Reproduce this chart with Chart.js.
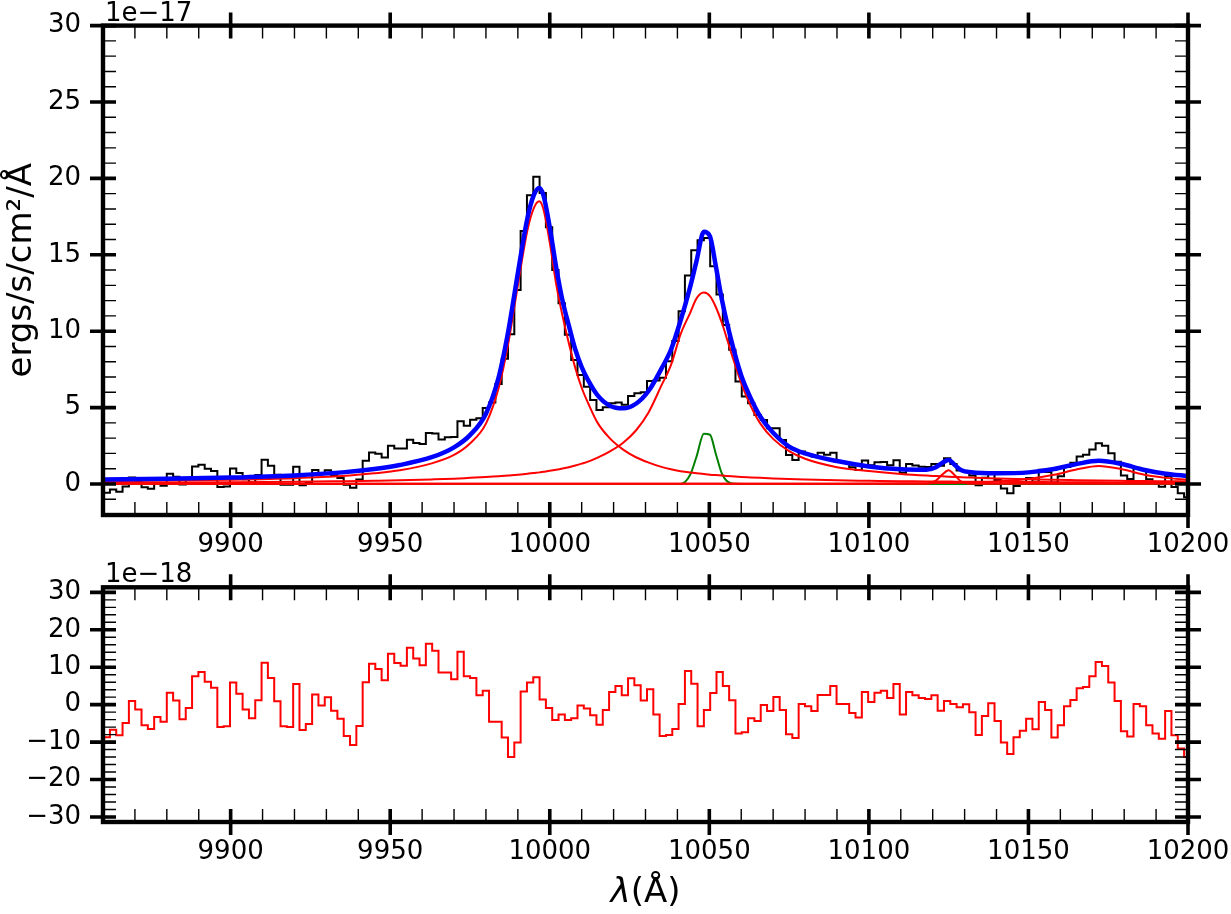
<!DOCTYPE html>
<html>
<head>
<meta charset="utf-8">
<script src="https://cdn.jsdelivr.net/npm/chart.js@4.4.1/dist/chart.umd.min.js"></script>
<style>
  html, body { margin: 0; padding: 0; background: #fff; }
  #wrap { position: relative; width: 1231px; height: 914px; }
  canvas { position: absolute; left: 0; }
  #fluxChart { top: 0; }
  #residChart { top: 560px; }
</style>
</head>
<body>
<div id="wrap">
  <canvas id="fluxChart" width="1231" height="560"></canvas>
  <canvas id="residChart" width="1231" height="354"></canvas>
</div>
<script>
// spectrum bins (steps-mid), centre of the first (clipped) bin and bin width in Å
const binStart = 9859.2
const binStep = 1.98

// observed flux, 1e-17 ergs/s/cm2/Å, one value per bin
const flux = [
  -0.55, -0.57, -0.36, -0.51, -0.17, 0.42, 0.20, -0.22, -0.31, 0.01,
  -0.11, 0.67, 0.47, -0.03, 0.28, 1.14, 1.26, 1.00, 0.85, -0.19,
  -0.16, 1.01, 0.72, 0.31, 0.09, 0.58, 1.59, 1.20, 0.60, -0.05,
  -0.05, 1.12, -0.09, 0.10, 0.91, 0.65, 0.90, 0.57, 0.39, -0.05,
  -0.25, 0.30, 1.52, 2.06, 1.98, 1.73, 2.50, 2.32, 2.33, 2.89,
  2.69, 2.61, 3.34, 3.30, 2.91, 3.06, 3.08, 4.11, 3.81, 4.21,
  4.30, 4.97, 5.34, 6.54, 8.20, 9.80, 12.70, 16.55, 18.90, 20.10,
  19.05, 16.80, 14.00, 11.83, 9.76, 8.12, 7.14, 6.37, 5.50, 4.85,
  5.02, 5.28, 5.33, 5.18, 5.76, 5.94, 6.00, 6.74, 6.77, 6.96,
  8.04, 9.35, 11.30, 13.65, 15.30, 15.95, 16.10, 14.25, 12.40, 10.40,
  8.78, 6.71, 5.72, 5.28, 4.52, 4.19, 3.65, 3.65, 2.88, 1.90,
  1.57, 2.12, 1.96, 1.80, 2.04, 1.91, 2.04, 1.48, 1.41, 1.10,
  0.92, 1.54, 1.22, 1.43, 1.44, 1.22, 1.56, 0.73, 1.31, 1.21,
  1.13, 1.11, 1.31, 1.20, 1.68, 1.30, 0.88, 0.81, 0.55, -0.08,
  0.41, 0.74, 0.26, -0.30, -0.60, -0.14, 0.05, 0.39, 0.15, 0.93,
  0.78, 0.10, 0.51, 1.11, 1.39, 1.80, 1.91, 2.26, 2.66, 2.51,
  2.01, 1.45, 0.56, 0.32, 1.07, 0.91, 0.31, 0.02, -0.18, 0.50,
  -0.20, -0.60, -0.87
]

// residuals, 1e-18, same bins
const resid = [
  0, -8.7, -6.7, -8.2, -4.9, 1.0, -1.3, -5.5, -6.5, -3.3,
  -4.6, 3.2, 1.1, -3.9, -0.9, 7.6, 8.75, 6.1, 4.5, -6.0,
  -5.8, 5.9, 2.9, -1.3, -3.6, 1.2, 11.2, 7.1, 0.9, -5.8,
  -6.0, 5.5, -6.8, -5.2, 2.7, -0.2, 2.0, -1.6, -3.75, -8.4,
  -10.8, -5.7, 6.0, 10.9, 9.55, 6.5, 13.6, 11.1, 10.4, 15.2,
  12.3, 10.5, 16.25, 14.4, 8.6, 8.6, 6.8, 14.1, 7.6, 7.1,
  2.5, 3.7, -4.6, -4.6, -8.75, -14.0, -10.1, 3.5, 5.9, 7.3,
  1.4, -0.9, -4.1, -2.6, -4.1, -3.6, -0.2, -1.0, -2.8, -5.4,
  -1.4, 3.4, 5.0, 2.5, 7.05, 5.2, 1.1, 4.1, -2.6, -8.4,
  -8.1, -6.5, 0.2, 9.0, 5.6, -5.8, -1.4, 3.1, 8.7, 5.0,
  1.2, -7.7, -7.4, -3.6, -4.4, -0.1, -1.7, 2.05, -1.4, -7.9,
  -8.9, 0.2, -0.4, -1.7, 2.6, 2.6, 5.0, 0.2, 0.2, -2.2,
  -3.4, 3.4, 0.7, 3.2, 3.7, 1.8, 5.5, -2.6, 3.4, 2.5,
  1.8, 1.5, 2.5, -1.6, 1.0, 0.2, -0.7, 0.1, -2.0, -8.1,
  -3.0, 0.4, -4.4, -10.1, -13.2, -8.7, -7.0, -3.8, -6.6, 0.7,
  -1.4, -8.75, -5.5, -0.4, 1.25, 4.4, 4.7, 7.6, 11.4, 10.3,
  5.9, 1.0, -7.1, -8.5, 0.2, -0.4, -5.5, -7.7, -9.1, -1.7,
  -8.2, -11.7, -14.0
]

// fitted model, read at these wavelengths
const modelWave = [
  9860, 9880, 9900, 9920, 9935, 9945, 9953, 9963, 9970, 9975,
  9980, 9984, 9987, 9990, 9993, 9995, 9996.7, 9998, 10000, 10002,
  10004, 10006, 10008, 10010, 10012, 10015, 10019, 10023, 10027, 10031,
  10035, 10038, 10041, 10044, 10046, 10048.3, 10050.2, 10052, 10054, 10057,
  10060, 10063, 10066, 10070, 10075, 10080, 10090, 10100, 10110, 10118,
  10121, 10123, 10125, 10127, 10129, 10132, 10140, 10150, 10158, 10165,
  10172, 10179, 10186, 10193, 10200
]
// total model (blue)
const modelTotal = [
  0.30, 0.35, 0.42, 0.56, 0.76, 0.98, 1.24, 1.75, 2.4, 3.2,
  4.6, 7.0, 10.0, 13.8, 17.4, 18.9, 19.37, 18.9, 16.8, 14.2,
  12.0, 10.35, 8.8, 7.65, 6.8, 5.8, 5.1, 4.95, 5.25, 6.1,
  7.55, 8.8, 10.7, 12.9, 14.6, 16.5, 16.2, 14.3, 12.0, 9.3,
  7.1, 5.6, 4.4, 3.35, 2.45, 2.0, 1.5, 1.15, 0.96, 0.93,
  1.1, 1.38, 1.57, 1.22, 0.9, 0.77, 0.70, 0.76, 0.98, 1.30,
  1.52, 1.32, 0.93, 0.67, 0.52
]
// broad line near 9997 Å (red)
const broadA = [
  0.18, 0.22, 0.28, 0.38, 0.52, 0.70, 0.90, 1.35, 1.9, 2.65,
  3.95, 6.3, 9.2, 13.0, 16.6, 18.05, 18.5, 18.0, 15.8, 13.1,
  11.0, 9.2, 7.6, 6.3, 5.3, 4.0, 2.95, 2.25, 1.75, 1.4,
  1.12, 0.96, 0.84, 0.75, 0.70, 0.65, 0.61, 0.58, 0.55, 0.50,
  0.46, 0.43, 0.40, 0.36, 0.32, 0.29, 0.24, 0.21, 0.18, 0.17,
  0.16, 0.16, 0.16, 0.15, 0.15, 0.15, 0.14, 0.13, 0.12, 0.11,
  0.11, 0.10, 0.10, 0.09, 0.09
]
// broad line near 10049 Å (red)
const broadB = [
  0.08, 0.09, 0.11, 0.14, 0.18, 0.21, 0.24, 0.30, 0.35, 0.40,
  0.45, 0.50, 0.55, 0.60, 0.67, 0.72, 0.76, 0.80, 0.86, 0.93,
  1.01, 1.10, 1.21, 1.33, 1.46, 1.72, 2.15, 2.7, 3.5, 4.7,
  6.45, 7.8, 9.8, 11.2, 12.15, 12.53, 12.3, 11.6, 10.5, 8.5,
  6.6, 5.1, 3.95, 2.95, 2.15, 1.65, 1.1, 0.85, 0.66, 0.55,
  0.52, 0.50, 0.48, 0.46, 0.44, 0.42, 0.36, 0.31, 0.27, 0.25,
  0.23, 0.21, 0.19, 0.18, 0.17
]
// narrow line near 10049 Å (green)
const narrowB = [
  0, 0, 0, 0, 0, 0, 0, 0, 0, 0,
  0, 0, 0, 0, 0, 0, 0, 0, 0, 0,
  0, 0, 0, 0, 0, 0, 0, 0, 0, 0,
  0, 0, 0, 0.6, 1.8, 3.28, 3.22, 2.0, 0.65, 0.03,
  0, 0, 0, 0, 0, 0, 0, 0, 0, 0,
  0, 0, 0, 0, 0, 0, 0, 0, 0, 0,
  0, 0, 0, 0, 0
]
// weak line near 10125 Å (red)
const weakC = [
  0.02, 0.02, 0.02, 0.02, 0.02, 0.02, 0.02, 0.02, 0.02, 0.02,
  0.02, 0.02, 0.02, 0.02, 0.02, 0.02, 0.02, 0.02, 0.02, 0.02,
  0.02, 0.02, 0.02, 0.02, 0.02, 0.02, 0.02, 0.02, 0.02, 0.02,
  0.02, 0.02, 0.02, 0.02, 0.02, 0.02, 0.02, 0.02, 0.02, 0.02,
  0.02, 0.02, 0.02, 0.02, 0.02, 0.02, 0.02, 0.02, 0.02, 0.02,
  0.22, 0.62, 0.90, 0.55, 0.15, 0.02, 0.02, 0.02, 0.02, 0.02,
  0.02, 0.02, 0.02, 0.02, 0.02
]
// broad weak line near 10172 Å (red)
const broadD = [
  0.01, 0.01, 0.01, 0.01, 0.01, 0.01, 0.01, 0.01, 0.01, 0.01,
  0.01, 0.01, 0.01, 0.01, 0.01, 0.01, 0.01, 0.01, 0.01, 0.01,
  0.01, 0.01, 0.01, 0.01, 0.01, 0.01, 0.01, 0.01, 0.01, 0.01,
  0.01, 0.01, 0.01, 0.01, 0.01, 0.01, 0.01, 0.01, 0.01, 0.01,
  0.01, 0.01, 0.01, 0.01, 0.01, 0.01, 0.02, 0.03, 0.04, 0.05,
  0.06, 0.06, 0.07, 0.07, 0.08, 0.10, 0.17, 0.33, 0.60, 0.95,
  1.18, 0.98, 0.62, 0.40, 0.28
]

const waveTicks = [9900, 9950, 10000, 10050, 10100, 10150, 10200]
const fluxTicks = [0, 5, 10, 15, 20, 25, 30]
const residTicks = [-30, -20, -10, 0, 10, 20, 30]

const binWave = flux.map((_, i) => +(binStart + i * binStep).toFixed(2))
const pts = (xs, ys) => ys.map((y, i) => ({ x: xs[i], y }))
const fmt = (v) => (v < 0 ? '\u2212' + Math.abs(v) : String(v))

Chart.defaults.font.family = '"DejaVu Sans", sans-serif'
Chart.defaults.color = '#000'

function range (a, b, step, skip) {
  const out = []
  for (let v = a; v <= b + 1e-9; v += step) if (Math.abs(v % skip) > 1e-6) out.push(v)
  return out
}

// frame, inward minor ticks, in-out major ticks, offset text and axis titles
const frameTicks = {
  id: 'frameTicks',
  afterDraw (chart, args, opts) {
    const { ctx, chartArea: a } = chart
    const xs = chart.scales.x
    const ys = chart.scales.y
    const L = 13
    ctx.save()
    ctx.strokeStyle = '#000'
    ctx.lineWidth = 1.4
    ctx.beginPath()
    for (const v of opts.xMinor) {
      const p = xs.getPixelForValue(v)
      ctx.moveTo(p, a.bottom); ctx.lineTo(p, a.bottom - L)
      ctx.moveTo(p, a.top); ctx.lineTo(p, a.top + L)
    }
    for (const v of opts.yMinor) {
      const p = ys.getPixelForValue(v)
      ctx.moveTo(a.left, p); ctx.lineTo(a.left + L, p)
      ctx.moveTo(a.right, p); ctx.lineTo(a.right - L, p)
    }
    ctx.stroke()
    ctx.lineWidth = 3.6
    ctx.beginPath()
    for (const v of opts.xMajor) {
      const p = xs.getPixelForValue(v)
      ctx.moveTo(p, a.bottom + L); ctx.lineTo(p, a.bottom - L)
      ctx.moveTo(p, a.top - L); ctx.lineTo(p, a.top + L)
    }
    for (const v of opts.yMajor) {
      const p = ys.getPixelForValue(v)
      ctx.moveTo(a.left - L, p); ctx.lineTo(a.left + L, p)
      ctx.moveTo(a.right + L, p); ctx.lineTo(a.right - L, p)
    }
    ctx.stroke()
    ctx.lineWidth = 4.4
    ctx.strokeRect(a.left, a.top, a.right - a.left, a.bottom - a.top)

    ctx.fillStyle = '#000'
    ctx.font = '26px "DejaVu Sans"'
    ctx.textAlign = 'left'
    ctx.textBaseline = 'alphabetic'
    ctx.fillText(opts.offset, a.left + 2, a.top - 5)

    if (opts.yTitle) {
      ctx.save()
      ctx.translate(22, (a.top + a.bottom) / 2)
      ctx.rotate(-Math.PI / 2)
      ctx.font = '34px "DejaVu Sans"'
      ctx.textAlign = 'center'
      ctx.textBaseline = 'middle'
      ctx.fillText(opts.yTitle, 0, 0)
      ctx.restore()
    }
    if (opts.xTitle) {
      const cx = (a.left + a.right) / 2
      const cy = opts.xTitleY
      ctx.textBaseline = 'middle'
      ctx.font = 'italic 34px "DejaVu Sans"'
      const w1 = ctx.measureText('λ').width
      ctx.font = '34px "DejaVu Sans"'
      const w2 = ctx.measureText('(Å)').width
      const x0 = cx - (w1 + w2) / 2
      ctx.font = 'italic 34px "DejaVu Sans"'
      ctx.fillText('λ', x0, cy)
      ctx.font = '34px "DejaVu Sans"'
      ctx.fillText('(Å)', x0 + w1, cy)
    }
    ctx.restore()
  }
}

function axes (yMin, yMax, yTicks, xHeight) {
  return {
    x: {
      type: 'linear',
      min: 9860,
      max: 10200,
      grid: { display: false, drawTicks: false },
      border: { display: false },
      afterBuildTicks: (s) => { s.ticks = waveTicks.map(v => ({ value: v })) },
      afterFit: (s) => { s.height = xHeight; s.paddingLeft = 0; s.paddingRight = 0 },
      ticks: { font: { size: 26 }, padding: 15, maxRotation: 0, autoSkip: false, callback: (v) => String(v) }
    },
    y: {
      type: 'linear',
      min: yMin,
      max: yMax,
      grid: { display: false, drawTicks: false },
      border: { display: false },
      afterBuildTicks: (s) => { s.ticks = yTicks.map(v => ({ value: v })) },
      afterFit: (s) => { s.width = 103; s.paddingTop = 0; s.paddingBottom = 0 },
      ticks: { font: { size: 26 }, padding: 22, autoSkip: false, callback: (v) => fmt(v) }
    }
  }
}

const common = {
  responsive: false,
  animation: false,
  events: [],
  plugins: { legend: { display: false }, tooltip: { enabled: false } }
}

const curve = (data, color, width, order) => ({
  data, borderColor: color, borderWidth: width, pointRadius: 0,
  cubicInterpolationMode: 'monotone', fill: false, order
})

new Chart(document.getElementById('fluxChart'), {
  type: 'line',
  data: {
    datasets: [
      curve(pts(modelWave, modelTotal), '#0000ff', 4.5, 0),
      curve(pts(modelWave, broadA), '#ff0000', 2, 1),
      curve(pts(modelWave, broadB), '#ff0000', 2, 1),
      curve(pts(modelWave, weakC), '#ff0000', 2, 1),
      curve(pts(modelWave, broadD), '#ff0000', 2, 1),
      curve(pts(modelWave, narrowB), '#008000', 2, 2),
      {
        data: pts(binWave, flux), borderColor: '#000', borderWidth: 2,
        pointRadius: 0, stepped: 'middle', fill: false, order: 3
      }
    ]
  },
  options: {
    ...common,
    layout: { padding: { top: 25.6, right: 43, left: 0, bottom: 0 } },
    scales: axes(-2.03, 30, fluxTicks, 45),
    plugins: {
      ...common.plugins,
      frameTicks: {
        xMajor: waveTicks, xMinor: range(9860, 10200, 10, 50),
        yMajor: fluxTicks, yMinor: range(-2, 30, 1, 5),
        offset: '1e\u221217', yTitle: 'ergs/s/cm\u00b2/Å'
      }
    }
  },
  plugins: [frameTicks]
})

new Chart(document.getElementById('residChart'), {
  type: 'line',
  data: {
    datasets: [{
      data: pts(binWave, resid), borderColor: '#ff0000', borderWidth: 2,
      pointRadius: 0, stepped: 'middle', fill: false
    }]
  },
  options: {
    ...common,
    layout: { padding: { top: 27.3, right: 43, left: 0, bottom: 0 } },
    scales: axes(-31.35, 31.35, residTicks, 92),
    plugins: {
      ...common.plugins,
      frameTicks: {
        xMajor: waveTicks, xMinor: range(9860, 10200, 10, 50),
        yMajor: residTicks, yMinor: range(-30, 30, 2, 10),
        offset: '1e\u221218', xTitle: true, xTitleY: 333
      }
    }
  },
  plugins: [frameTicks]
})
</script>
</body>
</html>
